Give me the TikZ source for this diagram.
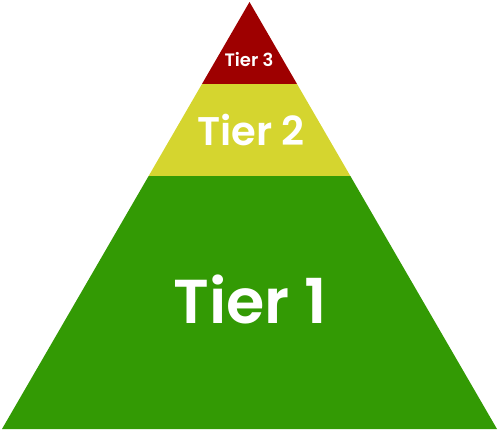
\documentclass[tikz,border=0pt]{standalone}
\usepackage{fontspec}
\setmainfont{Poppins}[UprightFont=* SemiBold, BoldFont=* Bold]
\definecolor{tierred}{HTML}{9E0000}
\definecolor{tieryellow}{HTML}{D5D52F}
\definecolor{tiergreen}{HTML}{339A04}
\begin{document}
\begin{tikzpicture}[x=1pt,y=1pt,
  tierlabel/.style={text=white,anchor=base,inner sep=0pt}]
\useasboundingbox (0,0) rectangle (500,431);
\coordinate (apex) at (249.5,429);
\coordinate (bl) at (2,2);
\coordinate (br) at (497,2);
\begin{scope}
  \clip (apex) -- (bl) -- (br) -- cycle;
  \fill[tiergreen] (0,0) rectangle (500,255);
  \fill[tieryellow] (0,255) rectangle (500,347);
  \fill[tierred] (0,347) rectangle (500,431);
\end{scope}
\node[tierlabel,font=\fontsize{62}{62}\selectfont] (t1) at (250,108) {Tier 1};
\node[tierlabel,font=\fontsize{40}{40}\selectfont] (t2) at (251,285) {Tier 2};
\node[tierlabel,font=\fontsize{18}{18}\selectfont] (t3) at (249,364) {Tier 3};
\end{tikzpicture}
\end{document}
